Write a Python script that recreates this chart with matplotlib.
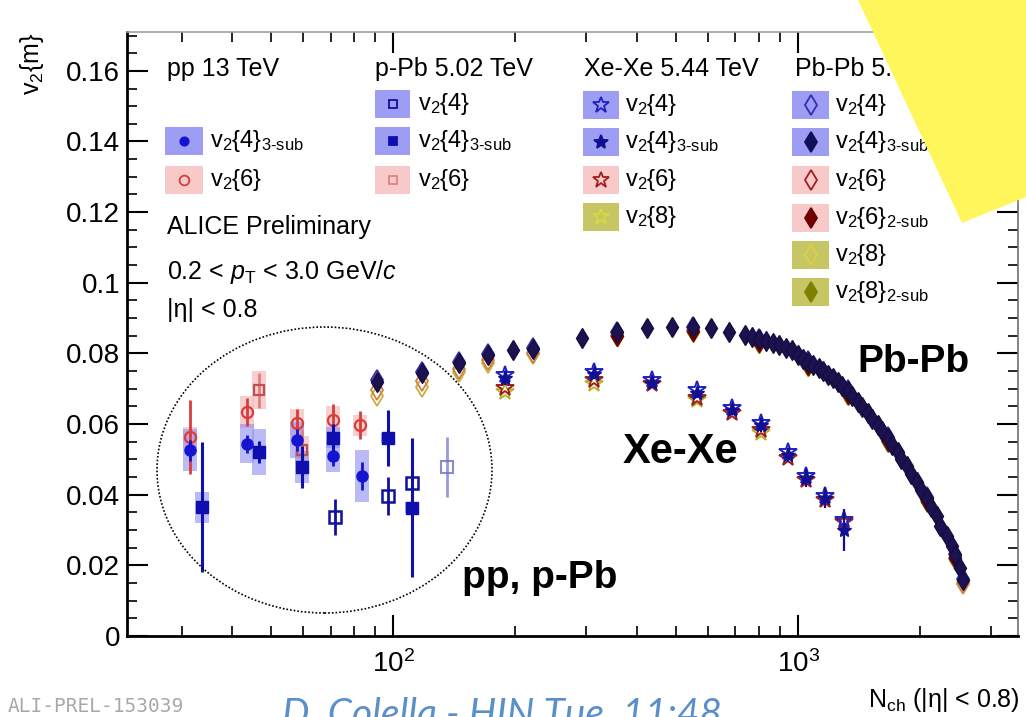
import matplotlib
matplotlib.use("Agg")
import matplotlib.pyplot as plt
from matplotlib.patches import Rectangle, Ellipse, Polygon
from matplotlib.lines import Line2D
from matplotlib.ticker import MultipleLocator, FuncFormatter

plt.rcParams['font.family'] = ['Liberation Sans', 'DejaVu Sans']
plt.rcParams['mathtext.fontset'] = 'custom'
plt.rcParams['mathtext.rm'] = 'Liberation Sans'
plt.rcParams['mathtext.it'] = 'Liberation Sans:italic'
plt.rcParams['mathtext.bf'] = 'Liberation Sans:bold'

# ---- pp 13 TeV ----
pp_N_v24sub = [31.5, 43.6, 57.9, 71.1, 83.8]
pp_v24sub = [0.0526, 0.0544, 0.0555, 0.0510, 0.0453]
pp_v24sub_stat = [0.0030, 0.0025, 0.0030, 0.0030, 0.0040]
pp_v24sub_sys = [0.0060, 0.0055, 0.0050, 0.0045, 0.0075]

pp_N_v26 = [31.5, 43.6, 57.9, 71.1, 82.9]
pp_v26 = [0.0563, 0.0634, 0.0602, 0.0612, 0.0597]
pp_v26_stat = [0.0105, 0.0040, 0.0040, 0.0045, 0.0040]
pp_v26_sys = [0.0030, 0.0045, 0.0040, 0.0040, 0.0030]

# ---- p-Pb 5.02 TeV ----
pPb_N_v24 = [71.9, 97.2, 111.4, 135.9]
pPb_v24 = [0.0337, 0.0396, 0.0433, 0.0478]
pPb_v24_stat = [0.0052, 0.0054, 0.0045, 0.0085]

pPb_N_v24sub = [33.7, 46.7, 59.6, 71.1, 97.2, 111.4]
pPb_v24sub = [0.0365, 0.0521, 0.0479, 0.0561, 0.0561, 0.0363]
pPb_v24sub_stat = [0.0184, 0.0030, 0.0060, 0.0040, 0.0080, 0.0197]
pPb_v24sub_sys = [0.0044, 0.0066, 0.0045, 0.0030, 0.0015, 0.0015]

pPb_N_v26 = [46.7, 59.6]
pPb_v26 = [0.0696, 0.0526]
pPb_v26_stat = [0.0050, 0.0060]
pPb_v26_sys = [0.0053, 0.0040]

# ---- Xe-Xe 5.44 TeV ----
XeXe_N = [189, 313, 436, 564, 687, 811, 944, 1047, 1166, 1300]
XeXe_v24 = [0.0739, 0.0748, 0.0725, 0.0697, 0.0646, 0.0603, 0.0521, 0.0453, 0.0397, 0.0329]
XeXe_v24sub = [0.0731, 0.0742, 0.0717, 0.0688, 0.0640, 0.0598, 0.0513, 0.0448, 0.0391, 0.0300]
XeXe_v24sub_stat = [0.0020, 0.0015, 0.0015, 0.0015, 0.0015, 0.0020, 0.0020, 0.0025, 0.0030, 0.0060]
XeXe_v26 = [0.0703, 0.0725, 0.0714, 0.0674, 0.0632, 0.0584, 0.0504, 0.0442, 0.0385, 0.0323]
XeXe_N_v28 = [189, 313, 564, 811]
XeXe_v28 = [0.0691, 0.0714, 0.0667, 0.0575]

# ---- Pb-Pb 5.02 TeV ----
PbPb_N = [91, 118, 145, 171, 197, 221, 293, 357, 424, 489, 551, 610, 676, 740,
          769, 801, 834, 868, 898, 934, 966, 1000, 1029, 1059, 1088, 1124, 1150,
          1186, 1216, 1253, 1286, 1327, 1360, 1404, 1438, 1485, 1520, 1572, 1607,
          1664, 1700, 1760, 1797, 1861, 1900, 1970, 2009, 2085, 2124, 2206, 2246,
          2335, 2393, 2445, 2512, 2550]
PbPb_v24sub = [0.0720, 0.0745, 0.0773, 0.0796, 0.0810, 0.0813, 0.0844, 0.0861,
               0.0873, 0.0875, 0.0875, 0.0873, 0.0861, 0.0853, 0.0847, 0.0841,
               0.0836, 0.0830, 0.0823, 0.0816, 0.0810, 0.0795, 0.0783, 0.0776,
               0.0768, 0.0759, 0.0749, 0.0739, 0.0730, 0.0720, 0.0707, 0.0694,
               0.0679, 0.0663, 0.0647, 0.0632, 0.0615, 0.0598, 0.0579, 0.0561,
               0.0541, 0.0521, 0.0501, 0.0482, 0.0459, 0.0436, 0.0414, 0.0391,
               0.0365, 0.0340, 0.0312, 0.0283, 0.0256, 0.0229, 0.0193, 0.0159]

PbPb_N_c = [91, 118, 145, 171, 221, 357, 551, 801, 1059, 1327, 1664, 2085, 2445, 2550]
PbPb_v24 = [0.0724, 0.0748, 0.0775, 0.0798, 0.0815, 0.0862, 0.0876, 0.0842,
            0.0778, 0.0696, 0.0563, 0.0393, 0.0231, 0.0161]
PbPb_v26 = [0.0697, 0.0722, 0.0757, 0.0780, 0.0802, 0.0852, 0.0866, 0.0833,
            0.0768, 0.0686, 0.0553, 0.0384, 0.0222, 0.0150]
PbPb_v28 = [0.0680, 0.0705, 0.0748, 0.0772, 0.0798, 0.0849, 0.0864, 0.0830,
            0.0765, 0.0683, 0.0550, 0.0381, 0.0219, 0.0146]

PbPb_N_2sub = [357, 551, 801, 1059, 1327, 1664, 2085, 2445]
PbPb_v26_2sub = [0.0850, 0.0864, 0.0831, 0.0766, 0.0684, 0.0551, 0.0382, 0.0220]
PbPb_v28_2sub = [0.0848, 0.0862, 0.0829, 0.0764, 0.0682, 0.0549, 0.0380, 0.0218]

# colours
BOX_BLUE = '#8c8cf2'
BOX_PINK = '#f6c0c0'
BOX_OLIVE = '#bcbc4a'
BLUE = '#1414d2'
RED = '#d83c3c'
DRED = '#6e0000'
OLIVE = '#b4b428'

W, H = 1026, 717


def fpos(x, y):
    return x / W, 1 - y / H


fig = plt.figure(figsize=(W / 100, H / 100), dpi=100)
ax = fig.add_axes([127 / W, 81 / H, (1018 - 127) / W, (636 - 32) / H])


def sys_boxes(N, v, dv, color, alpha=0.75):
    for n, y, d in zip(N, v, dv):
        lo, hi = n * 10 ** -0.017, n * 10 ** 0.017
        ax.add_patch(Rectangle((lo, y - d), hi - lo, 2 * d, facecolor=color,
                               edgecolor='none', alpha=alpha, zorder=1))


# systematic boxes for the small systems
sys_boxes(pp_N_v26, pp_v26, pp_v26_sys, BOX_PINK)
sys_boxes(pPb_N_v26, pPb_v26, pPb_v26_sys, BOX_PINK)
sys_boxes(pp_N_v24sub, pp_v24sub, pp_v24sub_sys, BOX_BLUE, 0.6)
sys_boxes(pPb_N_v24sub, pPb_v24sub, pPb_v24sub_sys, BOX_BLUE, 0.6)

# pp
ax.errorbar(pp_N_v26, pp_v26, yerr=pp_v26_stat, fmt='o', ms=8, mfc='none',
            mec=RED, mew=1.6, ecolor=RED, elinewidth=2, zorder=3)
ax.errorbar(pp_N_v24sub, pp_v24sub, yerr=pp_v24sub_stat, fmt='o', ms=8,
            color=BLUE, elinewidth=2, zorder=4)

# p-Pb
ax.errorbar(pPb_N_v26, pPb_v26, yerr=pPb_v26_stat, fmt='s', ms=7, mfc='none',
            mec='#c05050', mew=1.6, ecolor='#e08080', elinewidth=2, zorder=3)
ax.errorbar(pPb_N_v24[:3], pPb_v24[:3], yerr=pPb_v24_stat[:3], fmt='s', ms=8,
            mfc='none', mec='#1010a0', mew=1.8, ecolor='#1010a0', elinewidth=2, zorder=4)
ax.errorbar(pPb_N_v24[3:], pPb_v24[3:], yerr=pPb_v24_stat[3:], fmt='s', ms=8,
            mfc='none', mec='#7070c8', mew=1.5, ecolor='#8080d0', elinewidth=2,
            alpha=0.8, zorder=4)
ax.errorbar(pPb_N_v24sub, pPb_v24sub, yerr=pPb_v24sub_stat, fmt='s', ms=8,
            color='#0f0fb0', elinewidth=2.2, zorder=4)

# Xe-Xe
ax.plot(XeXe_N_v28, XeXe_v28, '*', ms=13, mfc='none', mec=OLIVE, mew=1.3, zorder=5)
ax.plot(XeXe_N, XeXe_v26, '*', ms=13, mfc='none', mec='#a02020', mew=1.4, zorder=5)
ax.plot(XeXe_N, XeXe_v24, '*', ms=13, mfc='none', mec='#2020c0', mew=1.4, zorder=5)
ax.errorbar(XeXe_N, XeXe_v24sub, yerr=XeXe_v24sub_stat, fmt='*', ms=11,
            color='#101090', elinewidth=1.6, zorder=6)

# Pb-Pb
ax.plot(PbPb_N_c, PbPb_v28, 'd', ms=10, mfc='none', mec='#c8b040', mew=1.3, zorder=5)
ax.plot(PbPb_N_c, PbPb_v26, 'd', ms=10, mfc='none', mec='#d08040', mew=1.3, zorder=5)
ax.plot(PbPb_N_c, PbPb_v24, 'd', ms=10, mfc='none', mec='#3030b0', mew=1.3, zorder=5)
ax.plot(PbPb_N_2sub, PbPb_v28_2sub, 'd', ms=10, color='#808000', zorder=6)
ax.plot(PbPb_N_2sub, PbPb_v26_2sub, 'd', ms=10, color=DRED, zorder=6)
ax.plot(PbPb_N, PbPb_v24sub, 'd', ms=10, color='#1c1250', mec='#150d40', zorder=7)

# axes
ax.set_xscale('log')
ax.set_xlim(22, 3490)
ax.set_ylim(0, 0.171)
ax.yaxis.set_major_locator(MultipleLocator(0.02))
ax.yaxis.set_minor_locator(MultipleLocator(0.005))
ax.yaxis.set_major_formatter(FuncFormatter(lambda v, p: '%g' % round(v, 3)))
ax.tick_params(which='both', direction='in', top=True, right=True, labelsize=20)
ax.tick_params(which='major', length=15, width=1.5)
ax.tick_params(which='minor', length=7.5, width=1.2)
ax.tick_params(axis='y', pad=5)
ax.tick_params(axis='x', pad=10)
for side in ['left', 'bottom']:
    ax.spines[side].set_linewidth(2.0)
ax.spines['top'].set_color('#a0a0a0')
ax.spines['top'].set_linewidth(1.2)
ax.spines['right'].set_color('#707070')
ax.spines['right'].set_linewidth(1.2)

fig.text(*fpos(32, 33), r'v$_2${m}', rotation=90, ha='center', va='top', fontsize=18)
fig.text(*fpos(1020, 700), r'N$_{\mathrm{ch}}$ (|η| < 0.8)', ha='right',
         va='center', fontsize=18)

# legend columns
headers = [(167, 'pp 13 TeV'), (375, 'p-Pb 5.02 TeV'), (584, 'Xe-Xe 5.44 TeV'),
           (795, 'Pb-Pb 5.02 TeV')]
for hx, label in headers:
    fig.text(*fpos(hx, 69), label, ha='left', va='center', fontsize=18)

v24 = r'v$_2${4}'
v24s = r'v$_2${4}$_{\text{3-sub}}$'
v26 = r'v$_2${6}'
v26s = r'v$_2${6}$_{\text{2-sub}}$'
v28 = r'v$_2${8}'
v28s = r'v$_2${8}$_{\text{2-sub}}$'

# (box left, box right, text x, [(row y, label, box colour, marker, colour, filled, size)])
legend_cols = [
    (165, 203, 210, [(141, v24s, BOX_BLUE, 'o', BLUE, True, 6),
                     (180, v26, BOX_PINK, 'o', RED, False, 7)]),
    (375, 410, 418, [(104, v24, BOX_BLUE, 's', '#1010a0', False, 6),
                     (141, v24s, BOX_BLUE, 's', '#0f0fb0', True, 6),
                     (180, v26, BOX_PINK, 's', '#e08080', False, 6)]),
    (583, 619, 625, [(105, v24, BOX_BLUE, '*', '#2020c0', False, 12),
                     (142, v24s, BOX_BLUE, '*', '#101090', True, 10),
                     (180, v26, BOX_PINK, '*', '#a02020', False, 12),
                     (217, v28, BOX_OLIVE, '*', '#d8d840', False, 12)]),
    (792, 829, 835, [(105, v24, BOX_BLUE, 'd', '#3030b0', False, 10),
                     (142, v24s, BOX_BLUE, 'd', '#10105a', True, 10),
                     (180, v26, BOX_PINK, 'd', '#a02020', False, 10),
                     (218, v26s, BOX_PINK, 'd', DRED, True, 10),
                     (255, v28, BOX_OLIVE, 'd', '#e0d040', False, 10),
                     (292, v28s, BOX_OLIVE, 'd', '#808000', True, 10)]),
]
for x0, x1, tx, rows in legend_cols:
    for ry, label, box, mk, col, filled, ms in rows:
        bx, by = fpos(x0, ry + 13.5)
        fig.add_artist(Rectangle((bx, by), (x1 - x0) / W, 27 / H,
                                 transform=fig.transFigure, facecolor=box,
                                 edgecolor='none', alpha=0.85))
        cx, cy = fpos((x0 + x1) / 2, ry)
        fig.add_artist(Line2D([cx], [cy], transform=fig.transFigure, marker=mk,
                              ms=ms, color=col, mfc=col if filled else 'none',
                              mew=1.3, linestyle='none'))
        fig.text(*fpos(tx, ry), label, ha='left', va='center', fontsize=17)

fig.text(*fpos(167, 227), 'ALICE Preliminary', ha='left', va='center', fontsize=18)
fig.text(*fpos(167, 272), r'0.2 < $p_{\mathrm{T}}$ < 3.0 GeV/$c$', ha='left',
         va='center', fontsize=18)
fig.text(*fpos(167, 310), '|η| < 0.8', ha='left', va='center', fontsize=18)

# system labels
fig.text(*fpos(913, 362), 'Pb-Pb', ha='center', va='center', fontsize=28,
         fontweight='bold')
fig.text(*fpos(680, 452), 'Xe-Xe', ha='center', va='center', fontsize=30,
         fontweight='bold')
fig.text(*fpos(540, 578), 'pp, p-Pb', ha='center', va='center', fontsize=28,
         fontweight='bold')

# dotted ring around the small systems
ecx, ecy = fpos(324.5, 470)
fig.add_artist(Ellipse((ecx, ecy), 335 / W, 286 / H, transform=fig.transFigure,
                       fill=False, edgecolor='black', linestyle=(0, (1, 1.2)),
                       linewidth=1.2, zorder=8))

# footer texts
fig.text(*fpos(8, 712), 'ALI-PREL-153039', ha='left', va='baseline',
         fontsize=14, family='DejaVu Sans Mono', color='#a8a8a8')
fig.text(*fpos(282, 726), 'D. Colella - HIN Tue. 11:48', ha='left',
         va='baseline', fontsize=28, family='Lato', style='italic',
         color='#5b8fc9')

# yellow corner
fig.add_artist(Polygon([fpos(858, 0), fpos(1026, 0), fpos(1026, 197), fpos(962, 223)],
                       closed=True, transform=fig.transFigure, facecolor='#fff65c',
                       edgecolor='none', zorder=20))

fig.savefig('out.png', dpi=100)
